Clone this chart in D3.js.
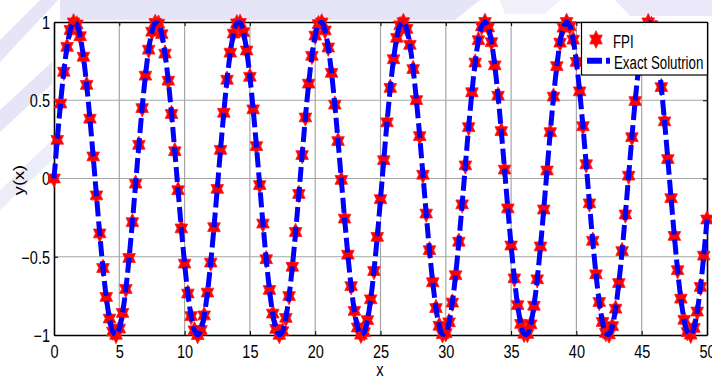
<!DOCTYPE html>
<html>
<head>
<meta charset="utf-8">
<script src="https://cdn.jsdelivr.net/npm/d3@7/dist/d3.min.js"></script>
<style>
  html, body { margin: 0; padding: 0; background: #fff; }
  svg { display: block; }
  text { font-family: "Liberation Sans", Arial, sans-serif; fill: #000; }
</style>
</head>
<body>
<div id="chart"></div>
<script>
// Data (one marker every 0.25 on x)
const xValues = [
  0, 0.25, 0.5, 0.75, 1, 1.25, 1.5, 1.75, 2, 2.25, 2.5, 2.75, 3, 3.25, 3.5, 3.75, 4, 4.25, 4.5, 4.75,
  5, 5.25, 5.5, 5.75, 6, 6.25, 6.5, 6.75, 7, 7.25, 7.5, 7.75, 8, 8.25, 8.5, 8.75, 9, 9.25, 9.5, 9.75,
  10, 10.25, 10.5, 10.75, 11, 11.25, 11.5, 11.75, 12, 12.25, 12.5, 12.75, 13, 13.25, 13.5, 13.75, 14, 14.25, 14.5, 14.75,
  15, 15.25, 15.5, 15.75, 16, 16.25, 16.5, 16.75, 17, 17.25, 17.5, 17.75, 18, 18.25, 18.5, 18.75, 19, 19.25, 19.5, 19.75,
  20, 20.25, 20.5, 20.75, 21, 21.25, 21.5, 21.75, 22, 22.25, 22.5, 22.75, 23, 23.25, 23.5, 23.75, 24, 24.25, 24.5, 24.75,
  25, 25.25, 25.5, 25.75, 26, 26.25, 26.5, 26.75, 27, 27.25, 27.5, 27.75, 28, 28.25, 28.5, 28.75, 29, 29.25, 29.5, 29.75,
  30, 30.25, 30.5, 30.75, 31, 31.25, 31.5, 31.75, 32, 32.25, 32.5, 32.75, 33, 33.25, 33.5, 33.75, 34, 34.25, 34.5, 34.75,
  35, 35.25, 35.5, 35.75, 36, 36.25, 36.5, 36.75, 37, 37.25, 37.5, 37.75, 38, 38.25, 38.5, 38.75, 39, 39.25, 39.5, 39.75,
  40, 40.25, 40.5, 40.75, 41, 41.25, 41.5, 41.75, 42, 42.25, 42.5, 42.75, 43, 43.25, 43.5, 43.75, 44, 44.25, 44.5, 44.75,
  45, 45.25, 45.5, 45.75, 46, 46.25, 46.5, 46.75, 47, 47.25, 47.5, 47.75, 48, 48.25, 48.5, 48.75, 49, 49.25, 49.5, 49.75,
  50
];

const fpiValues = [
  0, 0.247, 0.479, 0.682, 0.841, 0.949, 0.997, 0.984, 0.909, 0.778, 0.598, 0.382, 0.141,
  -0.108, -0.351, -0.572, -0.757, -0.895, -0.978, -0.999, -0.959, -0.859, -0.706, -0.508, -0.279, -0.033,
  0.215, 0.45, 0.657, 0.823, 0.938, 0.994, 0.989, 0.922, 0.798, 0.625, 0.412, 0.174,
  -0.075, -0.319, -0.544, -0.735, -0.879, -0.97, -1, -0.968, -0.875, -0.729, -0.537, -0.311, -0.066,
  0.183, 0.42, 0.631, 0.804, 0.926, 0.991, 0.994, 0.935, 0.818, 0.65, 0.442, 0.207,
  -0.042, -0.288, -0.516, -0.712, -0.863, -0.961, -0.999, -0.976, -0.891, -0.751, -0.564, -0.342, -0.099,
  0.15, 0.39, 0.606, 0.784, 0.913, 0.986, 0.997, 0.946, 0.837, 0.675, 0.472, 0.239,
  -0.009, -0.256, -0.487, -0.688, -0.846, -0.952, -0.998, -0.982, -0.905, -0.772, -0.591, -0.373, -0.132,
  0.117, 0.359, 0.579, 0.762, 0.899, 0.979, 0.999, 0.956, 0.854, 0.699, 0.501, 0.271, 0.024,
  -0.224, -0.458, -0.663, -0.828, -0.941, -0.995, -0.988, -0.919, -0.793, -0.618, -0.404, -0.165,
  0.084, 0.328, 0.551, 0.741, 0.884, 0.972, 1, 0.965, 0.871, 0.723, 0.529, 0.303, 0.057,
  -0.191, -0.428, -0.638, -0.809, -0.929, -0.992, -0.993, -0.932, -0.813, -0.644, -0.434, -0.198,
  0.051, 0.296, 0.523, 0.718, 0.868, 0.964, 1, 0.973, 0.887, 0.745, 0.557, 0.334, 0.091,
  -0.159, -0.398, -0.612, -0.789, -0.917, -0.987, -0.996, -0.943, -0.832, -0.668, -0.464, -0.23,
  0.018, 0.264, 0.495, 0.694, 0.851, 0.954, 0.998, 0.98, 0.902, 0.767, 0.584, 0.365, 0.124,
  -0.126, -0.367, -0.586, -0.768, -0.903, -0.981, -0.998, -0.954, -0.85, -0.693, -0.493, -0.262
];

// exact solution lies right on the FPI markers in the picture
const exactValues = fpiValues;

const xTicks = [0, 5, 10, 15, 20, 25, 30, 35, 40, 45, 50];
const yTicks = [-1, -0.5, 0, 0.5, 1];
const seriesNames = ["FPI", "Exact Solutrion"];

// Dimensions
const dimensions = {
  width: 712,
  height: 379,
  left: 54,
  right: 707,
  top: 22,
  bottom: 335,
};

// Draw Image
const svg = d3
  .select("#chart")
  .append("svg")
  .attr("width", dimensions.width)
  .attr("height", dimensions.height);

// faint watermark behind the figure
const wm = svg.append("g").attr("fill", "#e6e4f7");
wm.append("path").attr("d", "M60,0 L480,0 L455,20 L60,20 Z");
wm.append("path").attr("d", "M500,0 L560,0 L545,14 L505,14 Z").attr("opacity", 0.6);
wm.append("path").attr("d", "M615,0 L712,0 L712,16 L630,16 Z").attr("opacity", 0.8);
wm.append("path").attr("d", "M0,40 L40,0 L58,0 L0,62 Z");
wm.append("path").attr("d", "M0,110 L52,62 L52,84 L0,132 Z");
wm.append("path").attr("d", "M0,190 L52,140 L52,160 L0,210 Z").attr("opacity", 0.7);

svg.append("rect")
  .attr("x", dimensions.left)
  .attr("y", dimensions.top)
  .attr("width", dimensions.right - dimensions.left)
  .attr("height", dimensions.bottom - dimensions.top)
  .attr("fill", "#fff");

// Scales
const xScale = d3.scaleLinear().domain([0, 50]).range([dimensions.left, dimensions.right]);
const yScale = d3.scaleLinear().domain([-1, 1]).range([dimensions.bottom, dimensions.top]);

// Grid
const grid = svg.append("g").attr("stroke", "#a6a6a6").attr("stroke-width", 1.2);
grid.selectAll(".gx")
  .data(xTicks.slice(1, -1))
  .join("line")
  .attr("x1", (d) => xScale(d)).attr("x2", (d) => xScale(d))
  .attr("y1", dimensions.top).attr("y2", dimensions.bottom);
grid.selectAll(".gy")
  .data(yTicks.slice(1, -1))
  .join("line")
  .attr("class", "gy")
  .attr("x1", dimensions.left).attr("x2", dimensions.right)
  .attr("y1", (d) => yScale(d)).attr("y2", (d) => yScale(d));

// Axes (ticks point inward, box on all four sides)
const styleAxis = (g) => {
  g.select(".domain").attr("stroke", "#000").attr("stroke-width", 1.6);
  g.selectAll(".tick line").attr("stroke", "#000").attr("stroke-width", 1);
};

svg.append("g")
  .attr("transform", `translate(0, ${dimensions.bottom})`)
  .call(d3.axisBottom(xScale).tickValues(xTicks).tickSize(-4).tickSizeOuter(0))
  .call(styleAxis)
  .call((g) => g.selectAll(".tick text")
    .attr("y", null).attr("dy", null)
    .attr("font-size", 14.5)
    .attr("transform", "translate(0, 22.5) scale(1, 1.23)"));

svg.append("g")
  .attr("transform", `translate(0, ${dimensions.top})`)
  .call(d3.axisTop(xScale).tickValues(xTicks).tickSize(-4).tickSizeOuter(0).tickFormat(""))
  .call(styleAxis);

svg.append("g")
  .attr("transform", `translate(${dimensions.left}, 0)`)
  .call(d3.axisLeft(yScale).tickValues(yTicks).tickSize(-4).tickSizeOuter(0).tickFormat(d3.format("")))
  .call(styleAxis)
  .call((g) => g.selectAll(".tick text")
    .attr("x", null).attr("dy", null)
    .attr("font-size", 14.5)
    .attr("text-anchor", "end")
    .attr("transform", "translate(-4, 6.3) scale(1, 1.23)"));

svg.append("g")
  .attr("transform", `translate(${dimensions.right}, 0)`)
  .call(d3.axisRight(yScale).tickValues(yTicks).tickSize(-4).tickSizeOuter(0).tickFormat(""))
  .call(styleAxis);

svg.selectAll(".domain").attr("fill", "none");
svg.selectAll(".tick text").attr("font-family", null).attr("fill", "#000");

// Axis labels
svg.append("text")
  .attr("text-anchor", "middle")
  .attr("font-size", 14.7)
  .attr("transform", "translate(380, 375.5) scale(1, 1.3)")
  .text("x");

svg.append("text")
  .attr("text-anchor", "middle")
  .attr("font-size", 14)
  .attr("transform", "translate(24, 180) scale(1, 1.3) rotate(-90)")
  .text("y(x)");

// Hexagram marker
const hexagram = (rx, ry) => {
  const pts = d3.range(12).map((i) => {
    const a = -Math.PI / 2 + (i * Math.PI) / 6;
    const r = i % 2 === 0 ? 1 : 1 / Math.sqrt(3);
    return [rx * r * Math.cos(a), ry * r * Math.sin(a)];
  });
  return "M" + pts.map((p) => p.join(",")).join("L") + "Z";
};
const starPath = hexagram(7.3, 8.8);

// FPI markers
const fpiData = xValues.map((x, i) => ({ x, y: fpiValues[i] }));
svg.append("g")
  .selectAll("path")
  .data(fpiData)
  .join("path")
  .attr("d", starPath)
  .attr("transform", (d) => `translate(${xScale(d.x)}, ${yScale(d.y)})`)
  .attr("fill", "#ff0000")
  .attr("stroke", "#ff1a1a")
  .attr("stroke-width", 0.8);

// Exact solution line (drawn over the markers)
const exactData = xValues.map((x, i) => ({ x, y: exactValues[i] }));
const lineGenerator = d3.line()
  .x((d) => xScale(d.x))
  .y((d) => yScale(d.y))
  .curve(d3.curveCatmullRom);

svg.append("path")
  .datum(exactData)
  .attr("d", lineGenerator)
  .attr("fill", "none")
  .attr("stroke", "#0000ff")
  .attr("stroke-width", 5)
  .attr("stroke-dasharray", "15,5");

// Legend
const legend = svg.append("g");
legend.append("rect")
  .attr("x", 581.5).attr("y", 22.5)
  .attr("width", 126).attr("height", 52.5)
  .attr("fill", "#fff")
  .attr("stroke", "#000")
  .attr("stroke-width", 1.2);

legend.append("path")
  .attr("d", starPath)
  .attr("transform", "translate(596, 39.5)")
  .attr("fill", "#ff0000")
  .attr("stroke", "#ff1a1a")
  .attr("stroke-width", 0.8);

legend.append("line")
  .attr("x1", 587).attr("x2", 610)
  .attr("y1", 60.7).attr("y2", 60.7)
  .attr("stroke", "#0000ff")
  .attr("stroke-width", 6)
  .attr("stroke-dasharray", "15,4");

legend.selectAll("text")
  .data(seriesNames)
  .join("text")
  .attr("font-size", 13.3)
  .attr("transform", (d, i) => `translate(${613 + i}, ${48.3 + i * 21}) scale(1, 1.44)`)
  .text((d) => d);
</script>
</body>
</html>
